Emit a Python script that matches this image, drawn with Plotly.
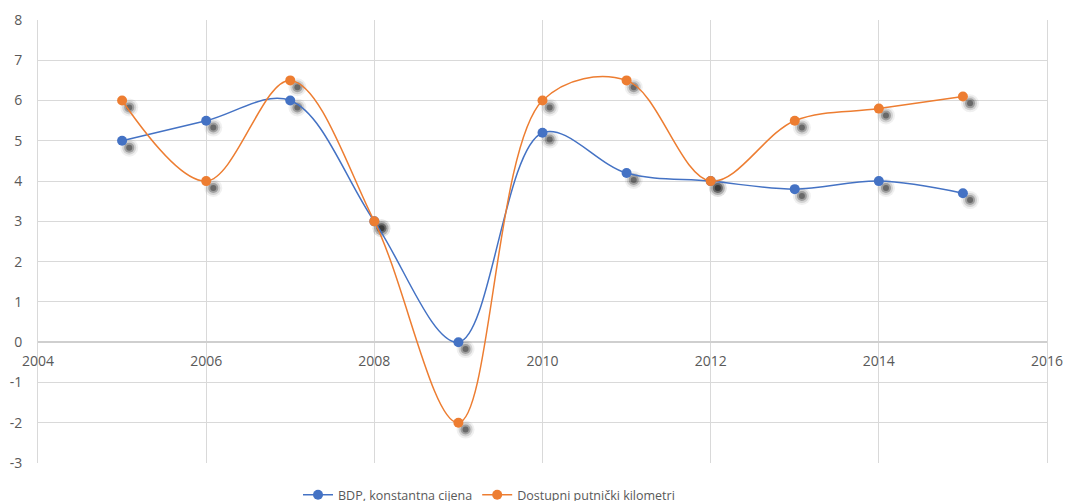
import plotly.graph_objects as go

years = [2005, 2006, 2007, 2008, 2009, 2010, 2011, 2012, 2013, 2014, 2015]
bdp = [5.0, 5.5, 6.0, 3.0, 0.0, 5.2, 4.2, 4.0, 3.8, 4.0, 3.7]
dostupni = [6.0, 4.0, 6.5, 3.0, -2.0, 6.0, 6.5, 4.0, 5.5, 5.8, 6.1]
series_names = ["BDP, konstantna cijena", "Dostupni putnički kilometri"]
x_ticks = [2004, 2006, 2008, 2010, 2012, 2014, 2016]
y_ticks = [-3, -2, -1, 0, 1, 2, 3, 4, 5, 6, 7, 8]
y_ticktext = ["-3", "-2", "-1", "0", "1", "2", "3", "4", "5", "6", "7", "8"]

blue = "#4472C4"
orange = "#ED7D31"

fig = go.Figure()

# blurred drop shadows
dx, dy = 0.085, -0.17
for vals in (bdp, dostupni):
    sx = [x + dx for x in years]
    sy = [v + dy for v in vals]
    for size, alpha in ((18, 0.07), (14, 0.15), (10, 0.3), (6, 0.45)):
        fig.add_trace(go.Scatter(x=sx, y=sy, mode="markers", showlegend=False, hoverinfo="skip",
                                 marker=dict(size=size, color=f"rgba(40,40,40,{alpha})", line=dict(width=0))))

for name, vals, col in ((series_names[0], bdp, blue), (series_names[1], dostupni, orange)):
    fig.add_trace(go.Scatter(x=years, y=vals, name=name, mode="lines+markers",
                             line=dict(color=col, width=1.5, shape="spline", smoothing=1.0),
                             marker=dict(size=10, color=col, line=dict(width=0))))

fig.update_layout(
    width=1067, height=501,
    margin=dict(l=38, r=20, t=20, b=38, autoexpand=False),
    paper_bgcolor="white", plot_bgcolor="white",
    font=dict(family="Open Sans", size=14, color="#595959"),
    showlegend=True,
    legend=dict(orientation="h", x=0.447, xanchor="center", y=-0.0725, yanchor="middle",
                font=dict(size=12.5, color="#595959"), itemwidth=30, bgcolor="rgba(0,0,0,0)"),
    xaxis=dict(range=[2004, 2016], tickvals=x_ticks, showgrid=True, gridcolor="#d9d9d9",
               gridwidth=1, zeroline=False, showline=False, anchor="free", position=3 / 11,
               ticks="", ticklabelstandoff=9, tickfont=dict(size=14, color="#595959")),
    yaxis=dict(range=[-3, 8], tickvals=y_ticks, ticktext=y_ticktext, showgrid=True,
               gridcolor="#d9d9d9", gridwidth=1, zeroline=True, zerolinecolor="#cfcfcf",
               zerolinewidth=2, showline=True, linecolor="#d9d9d9", linewidth=1, mirror=True,
               ticks="", ticklabelstandoff=12, tickfont=dict(size=14, color="#595959")),
)

fig.write_html("out.html", config={"displayModeBar": False},
               post_script="document.body.style.margin='0';document.body.style.overflow='hidden';")
